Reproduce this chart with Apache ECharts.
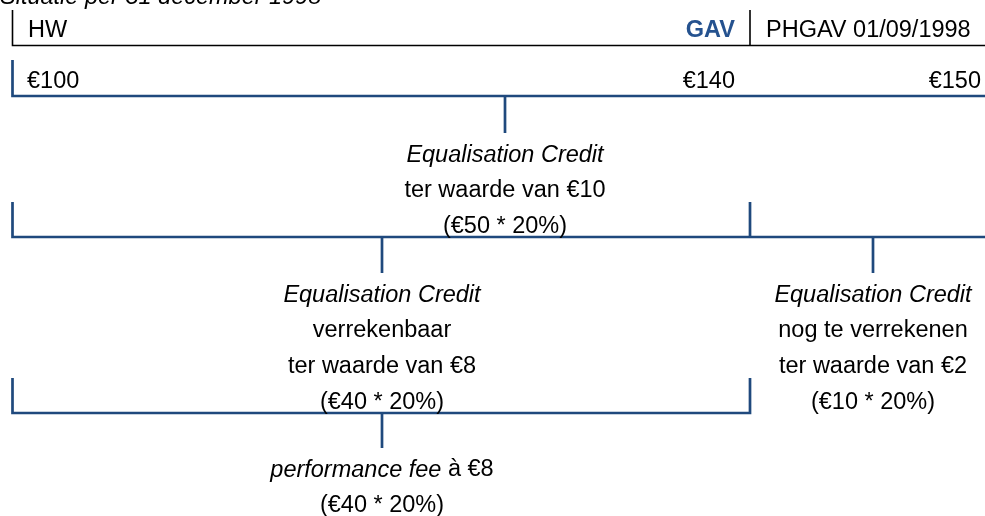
<!DOCTYPE html>
<html>
<head>
<meta charset="utf-8">
<script src="https://cdn.jsdelivr.net/npm/echarts@6/dist/echarts.min.js"></script>
<style>
html,body{margin:0;padding:0;background:#fff;}
#chart{width:985px;height:516px;}
</style>
</head>
<body>
<div id="chart"></div>
<script>
// ---- content (text data) ----
const titleText = 'Situatie per 31 december 1998';
const headerLabels = ['HW', 'GAV', 'PHGAV 01/09/1998'];
const navValues = ['€100', '€140', '€150'];
const creditTotal = ['Equalisation Credit', 'ter waarde van €10', '(€50 * 20%)'];
const creditSettled = ['Equalisation Credit', 'verrekenbaar', 'ter waarde van €8', '(€40 * 20%)'];
const creditRemaining = ['Equalisation Credit', 'nog te verrekenen', 'ter waarde van €2', '(€10 * 20%)'];
const performanceFee = ['performance fee', ' à €8', '(€40 * 20%)'];

// ---- styling / layout ----
const W = 985, H = 516;
const BLUE = '#1F497D';
const GAVBLUE = '#25528F';
const BLACK = '#000000';
const FONT = '"Liberation Sans", Arial, sans-serif';
const FS = 23.5;
const LH = 36;

const chart = echarts.init(document.getElementById('chart'));

function txt(x, y, formatter, opts) {
  return {
    value: [x, y],
    label: Object.assign({
      show: true, position: 'inside', formatter: formatter,
      fontFamily: FONT, fontSize: FS, color: BLACK, opacity: 1,
      align: 'left', verticalAlign: 'middle'
    }, opts || {})
  };
}
const richBase = {
  i: { fontFamily: FONT, fontSize: FS, color: BLACK, fontStyle: 'italic', lineHeight: LH },
  n: { fontFamily: FONT, fontSize: FS, color: BLACK, lineHeight: LH }
};
function block(x, firstY, lines, italicFirst) {
  const f = lines.map((s, k) => (k === 0 && italicFirst ? '{i|' + s + '}' : '{n|' + s + '}')).join('\n');
  return txt(x, firstY - LH / 2, f, { align: 'center', verticalAlign: 'top', rich: richBase, lineHeight: LH });
}

const texts = [
  txt(0, -3, titleText, { fontStyle: 'italic' }),
  txt(28, 31, headerLabels[0]),
  txt(735, 31, headerLabels[1], { align: 'right', fontWeight: 'bold', color: GAVBLUE }),
  txt(766, 31, headerLabels[2]),
  txt(27, 81.5, navValues[0]),
  txt(735, 81.5, navValues[1], { align: 'right' }),
  txt(981, 81.5, navValues[2], { align: 'right' }),
  block(505, 155, creditTotal, true),
  block(382, 295, creditSettled, true),
  block(873, 295, creditRemaining, true),
  txt(382, 470 - LH / 2,
      '{i|' + performanceFee[0] + '}{n|' + performanceFee[1] + '}\n{n|' + performanceFee[2] + '}',
      { align: 'center', verticalAlign: 'top', rich: richBase, lineHeight: LH })
];

const blueLines = [
  [[12.5, 60], [12.5, 96], [W, 96]],
  [[505, 96], [505, 133]],
  [[12.5, 202], [12.5, 237], [W, 237]],
  [[750, 202], [750, 237]],
  [[382, 237], [382, 273]],
  [[873, 237], [873, 273]],
  [[12.5, 378], [12.5, 413], [750, 413], [750, 378]],
  [[382, 413], [382, 448]]
];
const blackLines = [
  [[12.5, 10], [12.5, 45.5], [W, 45.5]],
  [[750, 10], [750, 45.5]]
];

chart.setOption({
  animation: false,
  grid: { left: 0, right: 0, top: 0, bottom: 0 },
  xAxis: { type: 'value', min: 0, max: W, show: false },
  yAxis: { type: 'value', min: 0, max: H, inverse: true, show: false },
  series: [
    {
      type: 'lines', coordinateSystem: 'cartesian2d', polyline: true, silent: true,
      lineStyle: { color: BLUE, width: 2.7, opacity: 1, curveness: 0 },
      data: blueLines.map(c => ({ coords: c }))
    },
    {
      type: 'lines', coordinateSystem: 'cartesian2d', polyline: true, silent: true,
      lineStyle: { color: BLACK, width: 1.6, opacity: 1, curveness: 0 },
      data: blackLines.map(c => ({ coords: c }))
    },
    {
      type: 'scatter', symbol: 'rect', symbolSize: 1, silent: true,
      clip: false,
      itemStyle: { color: 'rgba(0,0,0,0)', opacity: 1 },
      data: texts
    }
  ]
});
</script>
</body>
</html>
